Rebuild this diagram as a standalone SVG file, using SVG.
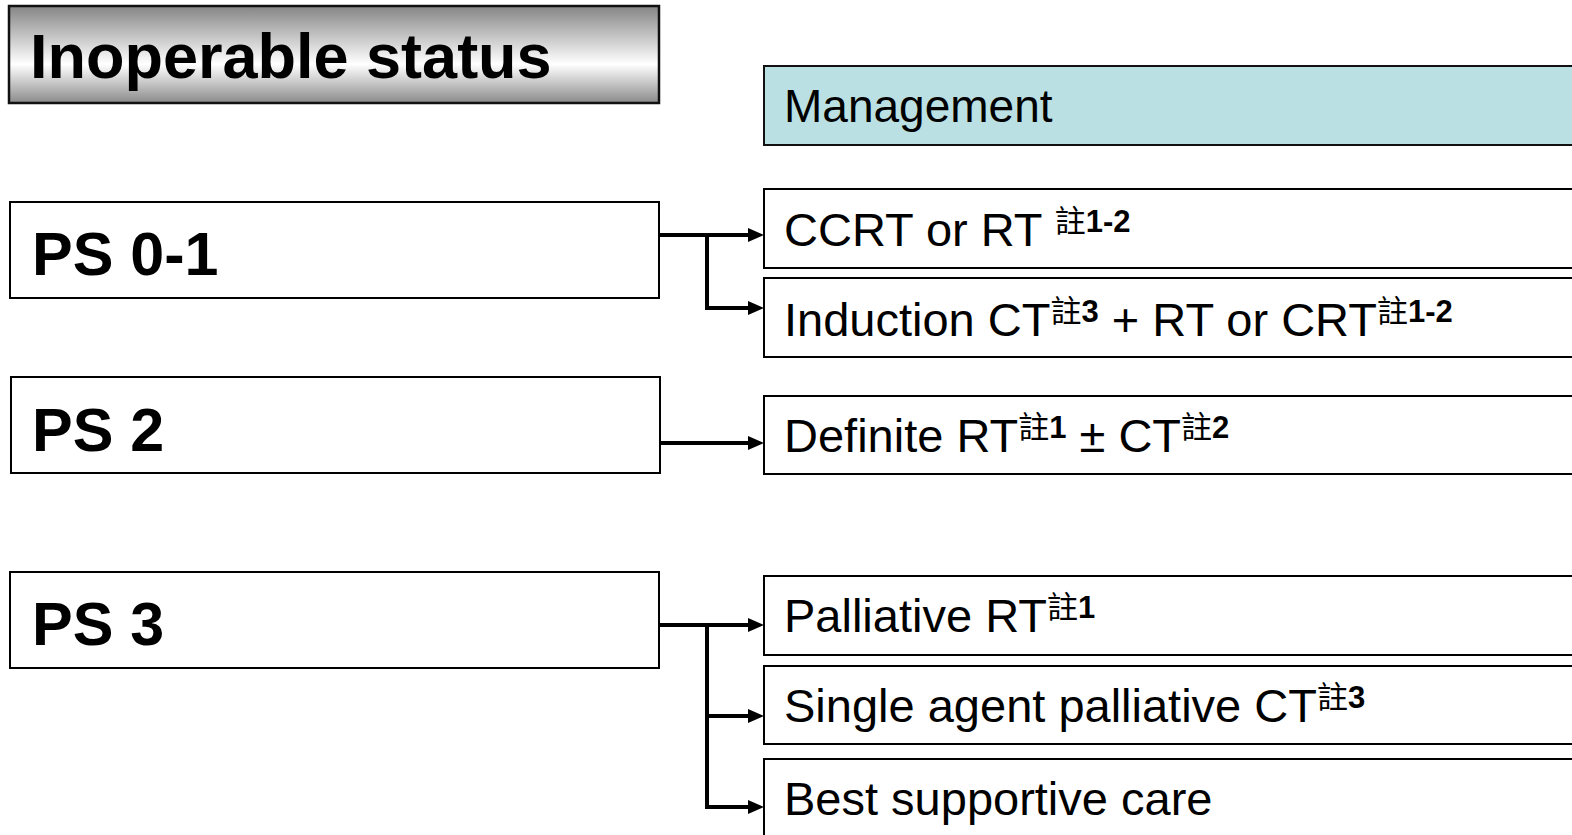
<svg xmlns="http://www.w3.org/2000/svg" xmlns:xlink="http://www.w3.org/1999/xlink" width="1572" height="835" viewBox="0 0 1572 835">
<defs>
<linearGradient id="tg" x1="0" y1="0" x2="0" y2="1">
<stop offset="0" stop-color="#858585"/>
<stop offset="0.6" stop-color="#ffffff"/>
<stop offset="1" stop-color="#8a8a8a"/>
</linearGradient>
<path id="arr" d="M-16,-7 L0,0 L-16,7 Z" fill="#000"/>
<style>
.box{fill:#fff;stroke:#000;stroke-width:2}
.ps{font-family:"Liberation Sans",Arial,sans-serif;font-weight:bold;font-size:61px;fill:#000}
.opt{font-family:"Liberation Sans",Arial,sans-serif;font-size:47px;fill:#000}
.cjk{font-family:"Noto Sans CJK TC","Noto Sans CJK SC",sans-serif;font-size:31px}
.sup{font-family:"Liberation Sans",Arial,sans-serif;font-weight:bold;font-size:31px}
.con{fill:none;stroke:#000;stroke-width:4}
</style>
</defs>
<rect width="1572" height="835" fill="#fff"/>
<g id="title">
<rect x="9" y="6" width="650" height="97" fill="url(#tg)" stroke="#111" stroke-width="2.5"/>
<text x="30" y="78" class="ps" style="font-size:63px">Inoperable status</text>
</g>
<g id="management">
<rect x="764" y="66" width="820" height="79" fill="#bbe0e3" stroke="#111" stroke-width="2"/>
<text x="784" y="122" class="opt" style="font-size:46px">Management</text>
</g>
<g id="ps01">
<rect x="10" y="202" width="649" height="96" class="box"/>
<text x="32" y="275" class="ps">PS 0-1</text>
</g>
<g id="ps2">
<rect x="11" y="377" width="649" height="96" class="box"/>
<text x="32" y="451" class="ps">PS 2</text>
</g>
<g id="ps3">
<rect x="10" y="572" width="649" height="96" class="box"/>
<text x="32" y="645" class="ps">PS 3</text>
</g>
<g id="opt-ccrt">
<rect x="764" y="189" width="820" height="79" class="box"/>
<text x="784" y="246" class="opt">CCRT or RT <tspan class="cjk" dy="-14">註</tspan><tspan class="sup">1-2</tspan></text>
</g>
<g id="opt-induction">
<rect x="764" y="278" width="820" height="79" class="box"/>
<text x="784" y="336" class="opt">Induction CT<tspan class="cjk" dy="-14">註</tspan><tspan class="sup">3</tspan><tspan dy="14"> + RT or CRT</tspan><tspan class="cjk" dy="-14">註</tspan><tspan class="sup">1-2</tspan></text>
</g>
<g id="opt-definite">
<rect x="764" y="396" width="820" height="78" class="box"/>
<text x="784" y="452" class="opt">Definite RT<tspan class="cjk" dy="-14">註</tspan><tspan class="sup">1</tspan><tspan dy="14"> ± CT</tspan><tspan class="cjk" dy="-14">註</tspan><tspan class="sup">2</tspan></text>
</g>
<g id="opt-palliative-rt">
<rect x="764" y="576" width="820" height="79" class="box"/>
<text x="784" y="632" class="opt">Palliative RT<tspan class="cjk" dy="-14">註</tspan><tspan class="sup">1</tspan></text>
</g>
<g id="opt-single-agent">
<rect x="764" y="666" width="820" height="78" class="box"/>
<text x="784" y="722" class="opt">Single agent palliative CT<tspan class="cjk" dy="-14">註</tspan><tspan class="sup">3</tspan></text>
</g>
<g id="opt-bsc">
<rect x="764" y="759" width="820" height="100" class="box"/>
<text x="784" y="815" class="opt">Best supportive care</text>
</g>
<g id="connectors">
<path class="con" d="M659,235 H752"/>
<path class="con" d="M707,235 V308 H752"/>
<path class="con" d="M660,443 H752"/>
<path class="con" d="M659,625 H752"/>
<path class="con" d="M707,625 V716 H752"/>
<path class="con" d="M707,716 V807 H752"/>
<use href="#arr" xlink:href="#arr" x="764" y="235"/>
<use href="#arr" xlink:href="#arr" x="764" y="308"/>
<use href="#arr" xlink:href="#arr" x="764" y="443"/>
<use href="#arr" xlink:href="#arr" x="764" y="625"/>
<use href="#arr" xlink:href="#arr" x="764" y="716"/>
<use href="#arr" xlink:href="#arr" x="764" y="807"/>
</g>
</svg>
